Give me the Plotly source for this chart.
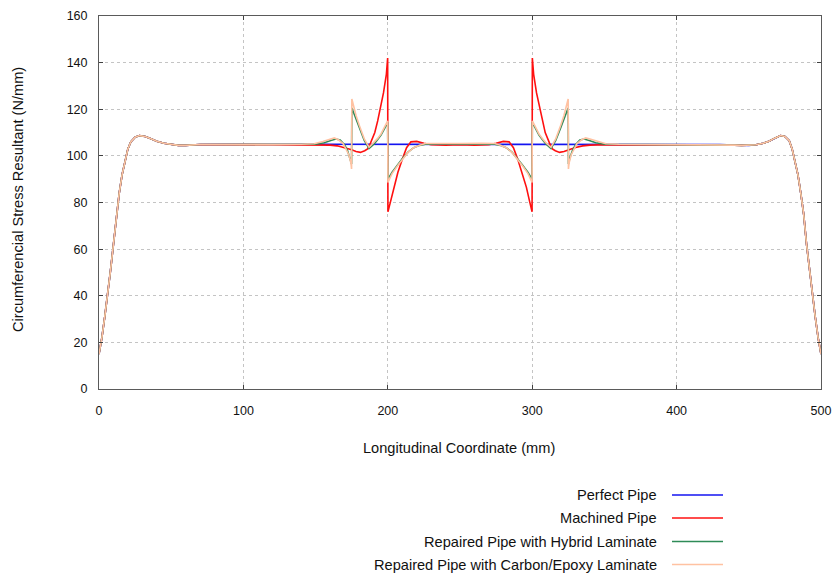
import plotly.graph_objects as go

# ---------------- data ----------------
# shared end regions (all four series coincide there)
x_edge_left = [0, 1, 2, 4, 6, 8, 10, 12, 14, 16, 18, 20, 22, 25, 28, 32, 36, 40, 45, 50, 55, 60, 70]
y_edge_left = [15, 18, 22, 31, 40, 51, 62, 74, 84, 92, 98, 103, 106, 108, 108.7, 108.3, 107.3, 106.3, 105.4, 104.8, 104.5, 104.5, 104.9]

x_edge_right = [430, 440, 445, 450, 455, 460, 464, 468, 472, 475, 478, 480, 482, 484, 486, 488, 490, 492, 494, 496, 498, 499, 500]
y_edge_right = [104.9, 104.6, 104.5, 104.5, 104.8, 105.4, 106.3, 107.6, 108.7, 108.3, 106.5, 103, 98, 92, 84, 75, 62, 51, 40, 31, 22, 18, 15]

# Perfect pipe, central part
x_perfect = [100, 250, 400]
y_perfect = [105, 105, 105]

# Machined pipe, central part
x_machined = [120, 150, 160, 165, 170, 175, 178, 181, 184, 186, 188, 191, 193, 195, 197, 199, 199.9,
              200.1, 202, 204, 207, 210, 213, 216, 220, 225, 230, 240, 250,
              260, 270, 275, 280, 284, 287, 290, 293, 296, 298, 299.9,
              300.1, 301, 303, 305, 307, 309, 312, 314, 316, 319, 322, 325, 330, 335, 340, 350, 380]
y_machined = [104.8, 104.8, 104.6, 104.3, 103.6, 102.6, 101.9, 101.5, 102.2, 103, 105.5, 110, 115, 121, 127, 135, 142,
              76, 81, 86.5, 93, 98.5, 103.5, 106, 106.2, 105.4, 104.8, 104.6, 104.8,
              104.6, 104.8, 105.4, 106.2, 106, 103.5, 98.5, 93, 86.5, 81, 76,
              142, 135, 127, 121, 115, 110, 105.5, 103, 102.2, 101.5, 101.9, 102.6, 103.6, 104.3, 104.6, 104.8, 104.8]

# Repaired pipe with hybrid laminate, central part
x_hybrid = [150, 156, 160, 164, 167, 170, 172, 174, 174.9, 175.1, 178, 180.3, 183.7, 187, 190.7, 193, 195.3, 198, 199.9,
            200.1, 203, 207, 210, 214, 218, 222, 226, 235, 250,
            265, 274, 278, 282, 286, 290, 293, 297, 299.9,
            300.1, 302, 304.7, 307, 309.3, 313, 316.3, 319.7, 322, 324.9, 325.1, 326, 328, 330, 333, 336, 340, 344, 350]
y_hybrid = [105, 105.6, 106.5, 107.2, 106.8, 104.8, 102.5, 99, 96.5, 120.5, 116, 112, 106.6, 103.2, 105.2, 107, 108.9, 112, 114.4,
            90, 93, 96.3, 98.8, 101.6, 103.5, 104.5, 105, 105.1, 105,
            105.1, 105, 104.5, 103.5, 101.6, 98.8, 96.3, 93, 90,
            114.4, 112, 108.9, 107, 105.2, 103.2, 106.6, 112, 116, 120.5, 96.5, 99, 102.5, 104.8, 106.8, 107.2, 106.5, 105.6, 105]

# Repaired pipe with carbon/epoxy laminate, central part
x_carbon = [140, 149, 155, 160, 163, 166, 169, 171, 173, 174.5, 174.9, 175.1, 178, 180.3, 183.7, 187, 190.7, 193, 195.3, 198, 199.9,
            200.1, 203, 207, 210, 214, 218, 222, 226, 235, 250,
            265, 274, 278, 282, 286, 290, 293, 297, 299.9,
            300.1, 302, 304.7, 307, 309.3, 313, 316.3, 319.7, 322, 324.9, 325.1, 325.5, 327, 329, 331, 334, 337, 340, 345, 351, 360]
y_carbon = [105, 105.2, 106.2, 107.2, 107.7, 106.8, 105.3, 103, 100.5, 96.8, 94.4, 124.4, 117.3, 113, 107.3, 103.7, 105.8, 107.5, 109.4, 112.5, 115,
            88.6, 92.5, 96, 98.5, 101.5, 103.5, 104.6, 105.3, 105.4, 105.3,
            105.4, 105.3, 104.6, 103.5, 101.5, 98.5, 96, 92.5, 88.6,
            115, 112.5, 109.4, 107.5, 105.8, 103.7, 107.3, 113, 117.3, 124.4, 94.4, 96.8, 100.5, 103, 105.3, 106.8, 107.7, 107.2, 106.2, 105.2, 105]

series_names = ["Perfect Pipe", "Machined Pipe", "Repaired Pipe with Hybrid Laminate",
                "Repaired Pipe with Carbon/Epoxy Laminate"]
series_colors = ["#1414F0", "#FF1010", "#2E8B57", "#FFC2A2"]

x_ticks = [0, 100, 200, 300, 400, 500]
y_ticks = [0, 20, 40, 60, 80, 100, 120, 140, 160]

# ---------------- figure ----------------
centers = [(x_perfect, y_perfect), (x_machined, y_machined), (x_hybrid, y_hybrid), (x_carbon, y_carbon)]

fig = go.Figure()
for name, color, (xc, yc) in zip(series_names, series_colors, centers):
    xs = x_edge_left + xc + x_edge_right
    ys = y_edge_left + yc + y_edge_right
    fig.add_trace(go.Scatter(x=xs, y=ys, mode="lines", name=name,
                             line=dict(color=color, width=1.6), showlegend=False))

W, H = 834, 574
ml, mr, mt, mb = 99, 13, 16, 185
pw, ph = W - ml - mr, H - mt - mb

def px_to_paper(px, py):
    return (px - ml) / pw, (H - mb - py) / ph

font_main = "Liberation Sans, Arial, sans-serif"
text_size = 14.6

axis_common = dict(showline=True, linecolor="#5a5a5a", linewidth=1, mirror="ticks",
                   ticks="inside", ticklen=4, tickcolor="#404040",
                   showgrid=True, gridcolor="#c4c4c4", griddash="3px,3px", gridwidth=1,
                   zeroline=False, tickfont=dict(family=font_main, size=12.5, color="#111111"))

fig.update_xaxes(range=[0, 500], tickvals=x_ticks, ticklabelstandoff=10, **axis_common)
fig.update_yaxes(range=[0, 160], tickvals=y_ticks, ticklabelstandoff=8, **axis_common)

annotations = []
shapes = []
# axis titles
ax, ay = px_to_paper(459, 448)
annotations.append(dict(text="Longitudinal Coordinate (mm)", x=ax, y=ay, xref="paper", yref="paper",
                        showarrow=False, xanchor="center", yanchor="middle",
                        font=dict(family=font_main, size=text_size, color="#111111")))
ax, ay = px_to_paper(18, 200)
annotations.append(dict(text="Circumferencial Stress Resultant (N/mm)", x=ax, y=ay, xref="paper", yref="paper",
                        showarrow=False, xanchor="center", yanchor="middle", textangle=-90,
                        font=dict(family=font_main, size=text_size, color="#111111")))

# legend (text right-aligned, line sample on the right)
legend_rows_px = [495, 518, 541.5, 564.5]
for name, color, ypx in zip(series_names, series_colors, legend_rows_px):
    tx, ty = px_to_paper(659, ypx)
    annotations.append(dict(text=name, x=tx, y=ty, xref="paper", yref="paper", showarrow=False,
                            xanchor="right", yanchor="middle",
                            font=dict(family=font_main, size=text_size, color="#111111")))
    x0, y0 = px_to_paper(672, ypx)
    x1, _ = px_to_paper(723, ypx)
    shapes.append(dict(type="line", xref="paper", yref="paper", x0=x0, x1=x1, y0=y0, y1=y0,
                       line=dict(color=color, width=1.6)))

fig.update_layout(width=W, height=H, margin=dict(l=ml, r=mr, t=mt, b=mb, autoexpand=False),
                  paper_bgcolor="white", plot_bgcolor="white",
                  annotations=annotations, shapes=shapes, showlegend=False)

fig.write_html("out.html")
